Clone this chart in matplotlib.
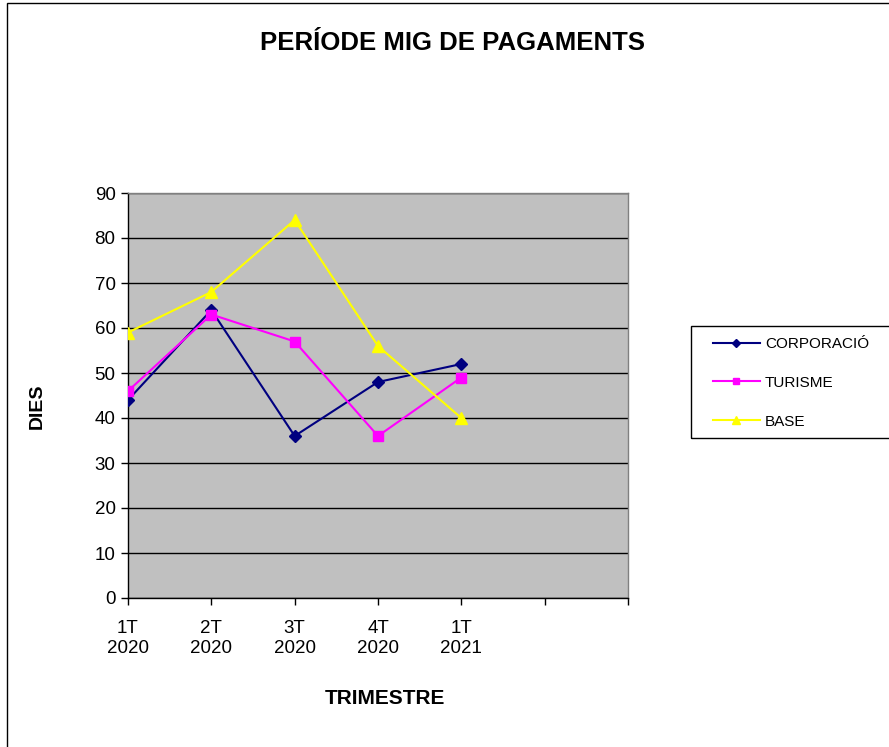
import matplotlib
matplotlib.use('Agg')
import matplotlib.pyplot as plt
from matplotlib.patches import Rectangle

plt.rcParams['font.family'] = ['Liberation Sans', 'DejaVu Sans']

trimestres = ['1T\n2020', '2T\n2020', '3T\n2020', '4T\n2020', '1T\n2021', '', '']
corporacio = [44, 64, 36, 48, 52]
turisme = [46, 63, 57, 36, 49]
base = [59, 68, 84, 56, 40]

fig = plt.figure(figsize=(8.89, 7.47), dpi=100)
ax = fig.add_axes([128 / 889, 1 - 598 / 747, 500 / 889, 405 / 747])
ax.set_facecolor('#c0c0c0')

x = list(range(len(corporacio)))
ax.plot(x, corporacio, color='#000080', lw=1.5, marker='D', ms=6.5, label='CORPORACIÓ', zorder=3)
ax.plot(x, turisme, color='#ff00ff', lw=1.5, marker='s', ms=7.5, label='TURISME', zorder=3)
ax.plot(x, base, color='#ffff00', lw=1.5, marker='^', ms=8.5, label='BASE', zorder=3)

ax.set_xlim(0, len(trimestres) - 1)
ax.set_ylim(0, 90)
ax.set_xticks(range(len(trimestres)))
ax.set_xticklabels(trimestres, fontsize=13.5, linespacing=1.25)
ax.set_yticks(range(0, 91, 10))
ax.tick_params(axis='y', labelsize=13.5, length=5, width=1, direction='out', pad=4)
ax.tick_params(axis='x', length=5, width=1, direction='out', pad=11)
ax.grid(axis='y', color='black', lw=1, zorder=1)
ax.set_axisbelow(True)

for side in ['left', 'bottom']:
    ax.spines[side].set_color('black')
    ax.spines[side].set_linewidth(1)
for side in ['right', 'top']:
    ax.spines[side].set_color('#808080')
    ax.spines[side].set_linewidth(1)

fig.text(452 / 889, 1 - 43 / 747, 'PERÍODE MIG DE PAGAMENTS', ha='center', va='center',
         fontsize=18.5, fontweight='bold')
fig.text(385 / 889, 1 - 698 / 747, 'TRIMESTRE', ha='center', va='center',
         fontsize=15, fontweight='bold')
fig.text(37 / 889, 1 - 406 / 747, 'DIES', ha='center', va='center', rotation=90,
         fontsize=14, fontweight='bold')

# legend box runs to the right edge of the image
leg = ax.legend(loc='upper left', bbox_to_anchor=(713 / 889, 1 - 337 / 747),
                bbox_transform=fig.transFigure, frameon=False,
                fontsize=11, borderpad=0, borderaxespad=0, labelspacing=1.62,
                handlelength=3.07, handletextpad=0.33, markerscale=0.6)
fig.patches.append(Rectangle((691 / 889, 1 - 438 / 747), 0.5, 112 / 747, transform=fig.transFigure,
                             fill=False, edgecolor='black', lw=1))

fig.patches.append(Rectangle((7 / 889, -0.1), 1.2, 1.1 - 3 / 747, transform=fig.transFigure,
                             fill=False, edgecolor='black', lw=1))

fig.savefig('out.png', dpi=100)
